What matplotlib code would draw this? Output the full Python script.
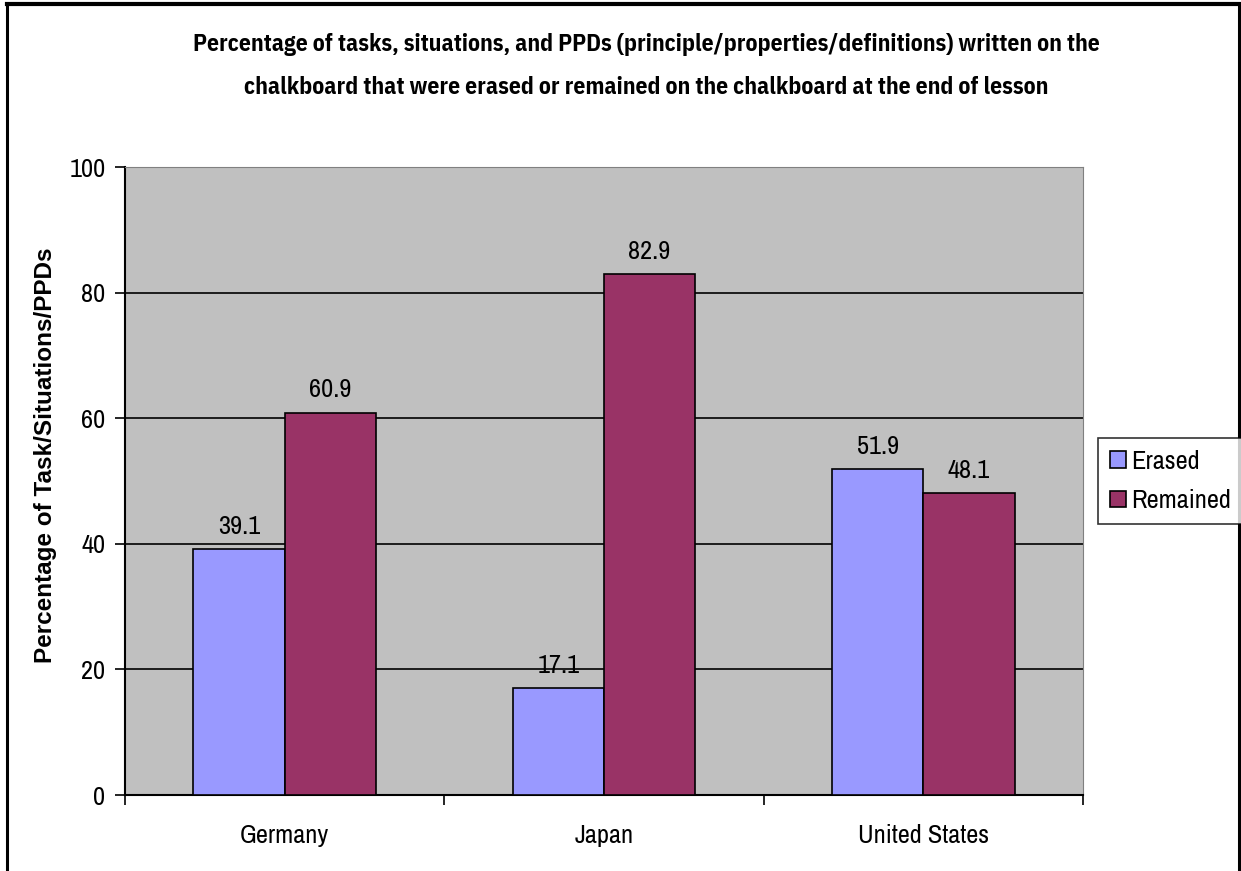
import numpy as np
import matplotlib.pyplot as plt

countries = ["Germany", "Japan", "United States"]
erased = [39.1, 17.1, 51.9]
remained = [60.9, 82.9, 48.1]
yticks = [0, 20, 40, 60, 80, 100]

narrow = ['Liberation Sans Narrow', 'Archivo Narrow', 'Liberation Sans']
narrow_bold = ['Liberation Sans Narrow', 'IBM Plex Sans Condensed', 'Liberation Sans']
plt.rcParams['font.family'] = narrow

fig = plt.figure(figsize=(12.41, 8.71), dpi=100)
ax = fig.add_axes([125/1241, 1 - 795/871, 958/1241, 628/871])
ax.set_facecolor('#C0C0C0')

x = np.arange(len(countries))
w = 0.2857
b1 = ax.bar(x - w/2, erased, w, color='#9999FF', edgecolor='black', linewidth=1.2, label='Erased', zorder=3)
b2 = ax.bar(x + w/2, remained, w, color='#993366', edgecolor='black', linewidth=1.2, label='Remained', zorder=3)

for bars in (b1, b2):
    for r in bars:
        v = r.get_height()
        ax.annotate(f"{v:.1f}", (r.get_x() + r.get_width()/2, v), xytext=(0, 8),
                    textcoords='offset points', ha='center', va='bottom', fontsize=19)

ax.set_xlim(-0.5, 2.5)
ax.set_ylim(0, 100)
ax.set_yticks(yticks)
ax.set_yticklabels([str(t) for t in yticks], fontsize=19)
ax.yaxis.grid(True, color='black', linewidth=1.2, zorder=1)
ax.set_axisbelow(True)

# category ticks sit between groups, labels centred under each group
ax.set_xticks([-0.5, 0.5, 1.5, 2.5])
ax.set_xticklabels([])
ax.set_xticks(x, minor=True)
ax.set_xticklabels(countries, minor=True, fontsize=19)
ax.tick_params(axis='x', which='minor', length=0, pad=21)
ax.tick_params(axis='x', which='major', length=7, width=1.2, direction='out')
ax.tick_params(axis='y', length=7, width=1.2, direction='out', pad=7)

for s in ('left', 'bottom'):
    ax.spines[s].set_linewidth(1.5)
ax.spines['top'].set_color('#808080')
ax.spines['right'].set_color('#808080')

ax.set_ylabel("Percentage of Task/Situations/PPDs", fontsize=17.5, fontweight='bold',
              family=['Liberation Sans', 'DejaVu Sans'])
ax.yaxis.set_label_coords(-68/958, 0.541)

tx = 646/1241
fig.text(tx, 1 - 45/871, "Percentage of tasks, situations, and PPDs (principle/properties/definitions) written on the",
         ha='center', va='center', fontsize=17, fontweight='bold', family=narrow_bold)
fig.text(tx, 1 - 87/871, "chalkboard that were erased or remained on the chalkboard at the end of lesson",
         ha='center', va='center', fontsize=17, fontweight='bold', family=narrow_bold)

leg = fig.legend(loc='upper left', bbox_to_anchor=(1098/1241, 1 - 438/871), fontsize=19,
                 frameon=True, fancybox=False, edgecolor='black', handlelength=0.6,
                 handleheight=0.6, handletextpad=0.2, borderpad=0.45, labelspacing=0.62,
                 borderaxespad=0)
leg.get_frame().set_linewidth(1.2)

# outer chart frame (no bottom edge)
fig.add_artist(plt.Line2D([7/1241, 7/1241], [0, 1 - 4/871], transform=fig.transFigure, color='black', lw=2.2))
fig.add_artist(plt.Line2D([1239/1241, 1239/1241], [0, 1 - 4/871], transform=fig.transFigure, color='black', lw=2.2))
fig.add_artist(plt.Line2D([7/1241, 1239/1241], [1 - 4/871, 1 - 4/871], transform=fig.transFigure, color='black', lw=3))

fig.savefig("out.png", dpi=100, facecolor='white')
